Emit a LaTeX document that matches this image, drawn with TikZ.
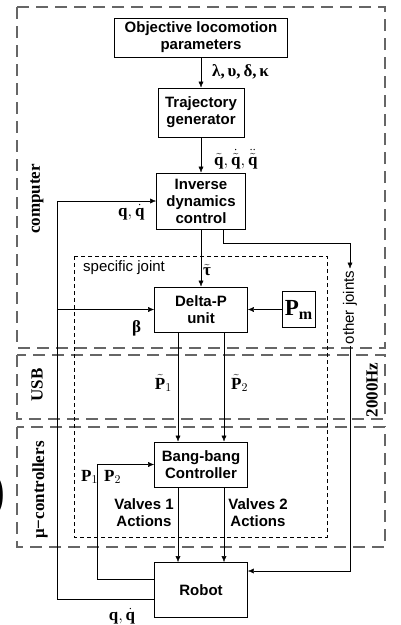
\RequirePackage{fix-cm}
\documentclass[tikz,border=0pt]{standalone}
\usepackage{amsmath}
\usepackage{amssymb}
\usepackage{fontspec}
\setmainfont{Liberation Serif}
\setsansfont{Liberation Sans}
\usetikzlibrary{arrows.meta, positioning}

\begin{document}
\begin{tikzpicture}[x=1pt, y=-1pt, node distance=2cm, >={Latex[length=6pt,width=5pt]},
    block/.style={rectangle, draw, line width=0.8pt, align=center, inner sep=2pt, font=\sffamily\bfseries\fontsize{15}{17}\selectfont},
    lbl/.style={inner sep=1pt, font=\fontsize{17}{19}\selectfont},
    zone/.style={draw=black!60, line width=1.2pt, dash pattern=on 12pt off 7pt},
    side/.style={rotate=90, inner sep=1pt, font=\bfseries\fontsize{17}{19}\selectfont}]
    \useasboundingbox (0,0) rectangle (400,625);

    % Dashed zones
    \draw[zone] (17,7) rectangle (385,348);
    \draw[zone] (17,355) rectangle (385,419);
    \draw[zone] (17,427) rectangle (385,547);
    \draw[line width=0.8pt, dash pattern=on 4pt off 3pt] (74,256) rectangle (327,537);

    % Define nodes
    \node (OL) [block, minimum width=173pt, minimum height=39pt] at (201,37.5) {Objective locomotion\\parameters};
    \node (TG) [block, node distance=75pt, below of=OL, minimum width=86pt, minimum height=49pt] {Trajectory\\generator};
    \node (IDC) [block, node distance=88.5pt, below of=TG, minimum width=89pt, minimum height=56pt] {Inverse\\dynamics\\control};
    \node (DP) [block, node distance=108.5pt, below of=IDC, minimum width=93pt, minimum height=45pt] {Delta-P\\unit};
    \node (PM) [block, node distance=97.5pt, right of=DP, minimum width=33pt, minimum height=36pt, inner sep=0pt, font=\rmfamily\bfseries\fontsize{23}{23}\selectfont] {P\raisebox{-4pt}{\fontsize{16}{16}\selectfont m}};
    \node (BB) [block, node distance=155pt, below of=DP, minimum width=93pt, minimum height=45pt] {Bang-bang\\Controller};
    \node (R) [block, node distance=125.5pt, below of=BB, minimum width=93pt, minimum height=55pt] {Robot};

    % Labels
    \node (LP) [lbl, anchor=west] at (211,72) {\textbf{λ,\,υ,\,δ,\,κ}};
    \node (LQ) [lbl, anchor=west] at (213,159) {$\tilde{\mathbf q},\dot{\tilde{\mathbf q}},\ddot{\tilde{\mathbf q}}$};
    \node (LQI) [lbl, anchor=west] at (117,212) {$\mathbf q,\dot{\mathbf q}$};
    \node (LT) [lbl, anchor=west] at (202,270) {$\tilde{\textbf{τ}}$};
    \node (LB) [lbl, anchor=west] at (131,328) {\textbf{β}};
    \node (LP1) [lbl, anchor=east] at (173,383) {$\tilde{\mathbf P}_1$};
    \node (LP2) [lbl, anchor=west] at (230,383) {$\tilde{\mathbf P}_2$};
    \node (LM1) [lbl, anchor=west] at (80,477) {$\mathbf P_1$};
    \node (LM2) [lbl, anchor=west] at (103,477) {$\mathbf P_2$};
    \node (LV1) [lbl, align=center, font=\sffamily\bfseries\fontsize{15}{17}\selectfont] at (144,513) {Valves 1\\Actions};
    \node (LV2) [lbl, align=center, font=\sffamily\bfseries\fontsize{15}{17}\selectfont] at (258,513) {Valves 2\\Actions};
    \node (LQR) [lbl] at (122,616) {$\mathbf q,\dot{\mathbf q}$};
    \node (SJ) [lbl, anchor=west, font=\sffamily\fontsize{15}{17}\selectfont] at (82,268) {specific joint};
    \node (OJ) [rotate=90, inner sep=2pt, font=\sffamily\fontsize{15}{17}\selectfont] at (350,307.5) {other joints};

    % Zone names
    \node (CPU) [side] at (37,199) {computer};
    \node (USB) [side] at (37,385) {USB};
    \node (MC) [side] at (40,490) {μ−controllers};
    \node (HZ) [side] at (372,390) {2000Hz};
    \node (PAR) [font=\fontsize{58}{58}\selectfont] at (-4,496) {)};

    % Draw edges
    \draw[->] (OL) -- (TG);
    \draw[->] (TG) -- (IDC);
    \draw[->] (IDC) -- (DP);
    \draw[->] (PM) -- (DP);
    \draw[->] ([xshift=-23pt]DP.south) -- ([xshift=-23pt]BB.north);
    \draw[->] ([xshift=23pt]DP.south) -- ([xshift=23pt]BB.north);
    \draw[->] ([xshift=-23pt]BB.south) -- ([xshift=-23pt]R.north);
    \draw[->] ([xshift=23pt]BB.south) -- ([xshift=23pt]R.north);
    \coordinate (OJC) at (350,243);
    \draw[->] ([xshift=22pt]IDC.south) |- (OJC) -- (OJ.east);
    \draw[->] (OJ.west) |- ([yshift=19pt]R.east);
    \coordinate (FBT) at (57,201);
    \coordinate (FBM) at (57,309.5);
    \draw[->] ([yshift=-9pt]R.west) -| (FBT) -- (IDC.west);
    \draw[->] (FBM) -- (DP.west);
    \coordinate (PFB) at (97,464.5);
    \draw[->] ([yshift=11pt]R.west) -| (PFB) -- (BB.west);
\end{tikzpicture}
\end{document}
